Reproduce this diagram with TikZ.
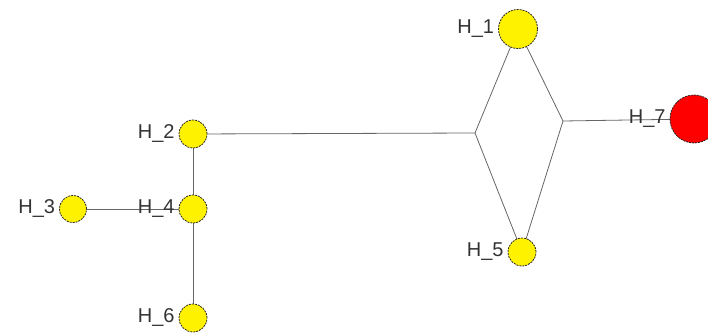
\documentclass[tikz,border=0pt]{standalone}
\usepackage{fontspec}
\setmainfont{Liberation Sans}
\begin{document}
\begin{tikzpicture}[x=1pt,y=-1pt,
  hap/.style={circle,draw=black!85,line width=0.8pt,dash pattern=on 2pt off 1pt,inner sep=0pt,fill=yellow},
  small/.style={hap,minimum size=28pt},
  lbl/.style={label={[label distance=0.5pt,text=black!80,font=\fontsize{20}{20}\selectfont]left:#1}},
  edge/.style={draw=black!60,line width=0.8pt}]
\useasboundingbox (0,0) rectangle (708,334);
\clip (0,0) rectangle (708,334);
\coordinate (j1) at (475,133);
\coordinate (j2) at (563,121);
\coordinate (c1) at (518,29);
\coordinate (c2) at (193,134);
\coordinate (c3) at (73,209);
\coordinate (c4) at (193,209);
\coordinate (c5) at (522,252);
\coordinate (c6) at (193,318);
\coordinate (c7) at (694,119);
\draw[edge] (c2) -- (j1);
\draw[edge] (j1) -- (c1);
\draw[edge] (j1) -- (c5);
\draw[edge] (j2) -- (c1);
\draw[edge] (j2) -- (c5);
\draw[edge] (j2) -- (c7);
\draw[edge] (c2) -- (c4);
\draw[edge] (c4) -- (c6);
\draw[edge] (c3) -- (c4);
\node[hap,minimum size=39pt,lbl={H\_1}] (h1) at (c1) {};
\node[small,lbl={H\_2}] (h2) at (c2) {};
\node[small,minimum size=27pt,lbl={H\_3}] (h3) at (c3) {};
\node[small,lbl={H\_4}] (h4) at (c4) {};
\node[small,lbl={H\_5}] (h5) at (c5) {};
\node[small,lbl={H\_6}] (h6) at (c6) {};
\node[hap,fill=red,minimum size=48pt,lbl={H\_7}] (h7) at (c7) {};
\end{tikzpicture}
\end{document}
